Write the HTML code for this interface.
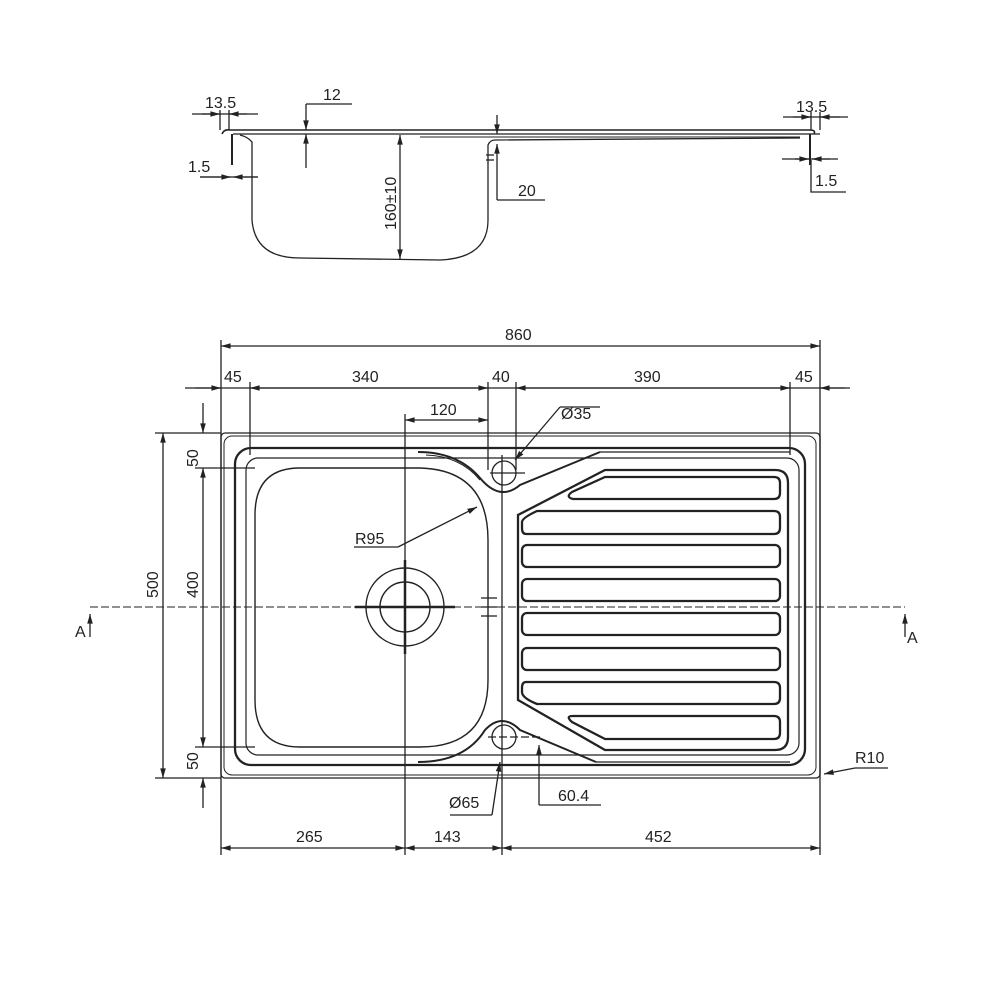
<!DOCTYPE html>
<html><head><meta charset="utf-8"><style>
html,body{margin:0;padding:0;background:#fff}
svg{display:block}
text{font-family:"Liberation Sans",sans-serif;font-size:16px;fill:#222}
</style></head><body>
<svg width="1000" height="1000" viewBox="0 0 1000 1000" xmlns="http://www.w3.org/2000/svg">
<defs>
<marker id="a" viewBox="0 0 12 10" refX="12" refY="5" markerWidth="12" markerHeight="8" orient="auto-start-reverse" markerUnits="userSpaceOnUse"><path d="M0,1.5 L12,5 L0,8.5 z" fill="#222"/></marker>
</defs>
<g fill="none" stroke="#222" stroke-width="1.3">
<!-- SECTION VIEW -->
<path d="M222,134 Q224,129 230,130 L810,130 Q816,130 814,134" stroke-width="1.6"/>
<path d="M233,134 L495,134 L820,134"/>
<path d="M240,135 Q248,137 252,142 L252,220 Q255,258 300,258 L440,260 Q488,258 488,220 L488,145 Q490,140 495,140 L800,138"/>
<path d="M420,137 L800,137" stroke-width="1"/>
<line x1="232" y1="134" x2="232" y2="165" stroke-width="2"/>
<line x1="810" y1="134" x2="810" y2="165" stroke-width="2"/>
<line x1="192" y1="114" x2="258" y2="114"/>
<line x1="220" y1="110" x2="220" y2="130"/><line x1="229" y1="110" x2="229" y2="130"/>
<line x1="202" y1="114" x2="220" y2="114" marker-end="url(#a)"/>
<line x1="247" y1="114" x2="229" y2="114" marker-end="url(#a)"/>
<line x1="200" y1="177" x2="258" y2="177"/>
<line x1="200" y1="177" x2="231" y2="177" marker-end="url(#a)"/>
<line x1="258" y1="177" x2="233" y2="177" marker-end="url(#a)"/>
<line x1="306" y1="104" x2="352" y2="104"/>
<line x1="306" y1="104" x2="306" y2="130" marker-end="url(#a)"/>
<line x1="306" y1="168" x2="306" y2="134" marker-end="url(#a)"/>
<line x1="400" y1="135" x2="400" y2="259" marker-start="url(#a)" marker-end="url(#a)"/>
<line x1="497" y1="115" x2="497" y2="134" marker-end="url(#a)"/>
<line x1="497" y1="200" x2="497" y2="144" marker-end="url(#a)"/>
<line x1="497" y1="200" x2="545" y2="200"/>
<line x1="486" y1="155" x2="494" y2="155"/><line x1="486" y1="160" x2="494" y2="160"/>
<line x1="783" y1="117" x2="848" y2="117"/>
<line x1="811" y1="112" x2="811" y2="130"/><line x1="820" y1="112" x2="820" y2="130"/>
<line x1="793" y1="117" x2="811" y2="117" marker-end="url(#a)"/>
<line x1="840" y1="117" x2="820" y2="117" marker-end="url(#a)"/>
<line x1="782" y1="159" x2="838" y2="159"/>
<line x1="795" y1="159" x2="809" y2="159" marker-end="url(#a)"/>
<line x1="830" y1="159" x2="812" y2="159" marker-end="url(#a)"/>
<polyline points="811,160 811,192 846,192"/>

<!-- PLAN VIEW -->
<rect x="221" y="433" width="599" height="345" rx="4"/>
<rect x="224" y="436" width="592" height="339" rx="8" stroke-width="1"/>
<rect x="235" y="448" width="570" height="317" rx="16" stroke-width="2.3"/>
<rect x="246" y="458" width="553" height="297" rx="12" stroke-width="1.2"/>
<path d="M300,468 L420,468 Q488,470 488,540 L488,680 Q488,747 420,747 L300,747 Q255,747 255,700 L255,515 Q255,468 300,468 Z" stroke-width="1.4"/>
<path d="M418,452 Q458,452 480,478 Q500,502 520,485 L600,452" stroke-width="2"/>
<path d="M426,455 Q460,456 480,480" stroke-width="1"/>
<path d="M600,452 L790,452" stroke-width="1.2"/>
<path d="M418,762 Q465,762 485,730 Q502,712 520,730 L596,762" stroke-width="2"/>
<path d="M596,762 L790,762" stroke-width="1.2"/>
<path d="M605,470 L775,470 Q788,470 788,483 L788,737 Q788,750 775,750 L605,750 L518,700 L518,515 Z" stroke-width="2.3"/>
<g stroke-width="2.3">
<path d="M605,477 L774,477 Q780,477 780,483 L780,493 Q780,499 774,499 L573,499 Q565,497 572,492 Z"/>
<path d="M537,511 L774,511 Q780,511 780,517 L780,528 Q780,534 774,534 L526,534 Q522,534 522,528 L522,522 Q522,518 537,511 Z"/>
<rect x="522" y="545" width="258" height="22" rx="5"/>
<rect x="522" y="579" width="258" height="22" rx="5"/>
<rect x="522" y="613" width="258" height="22" rx="5"/>
<rect x="522" y="648" width="258" height="22" rx="5"/>
<path d="M526,682 L774,682 Q780,682 780,688 L780,698 Q780,704 774,704 L537,704 Q522,698 522,692 L522,688 Q522,682 526,682 Z"/>
<path d="M573,716 L774,716 Q780,716 780,722 L780,733 Q780,739 774,739 L605,739 L572,722 Q565,716 573,716 Z"/>
</g>
<circle cx="405" cy="607" r="39" stroke-width="1.4"/>
<circle cx="405" cy="607" r="25" stroke-width="1.4"/>
<line x1="355" y1="607" x2="455" y2="607" stroke-width="2.5"/>
<line x1="405" y1="560" x2="405" y2="654" stroke-width="2.5"/>
<circle cx="504" cy="473" r="12"/>
<line x1="490" y1="473" x2="525" y2="473"/>
<circle cx="504" cy="737" r="12"/>
<line x1="488" y1="737" x2="540" y2="737" stroke-dasharray="8 3"/>
<line x1="90" y1="607" x2="905" y2="607" stroke-dasharray="8 3" stroke-width="1"/>
<line x1="481" y1="598" x2="497" y2="598"/><line x1="481" y1="607" x2="497" y2="607"/><line x1="481" y1="616" x2="497" y2="616"/>
<line x1="90" y1="637" x2="90" y2="614" marker-end="url(#a)"/>
<line x1="905" y1="637" x2="905" y2="614" marker-end="url(#a)"/>
<line x1="221" y1="340" x2="221" y2="855"/>
<line x1="820" y1="340" x2="820" y2="855"/>
<line x1="250" y1="382" x2="250" y2="455"/>
<line x1="488" y1="382" x2="488" y2="470"/>
<line x1="516" y1="382" x2="516" y2="470"/>
<line x1="790" y1="382" x2="790" y2="455"/>
<line x1="405" y1="414" x2="405" y2="855"/>
<line x1="502" y1="455" x2="502" y2="855"/>
<line x1="221" y1="346" x2="820" y2="346" marker-start="url(#a)" marker-end="url(#a)"/>
<line x1="185" y1="388" x2="850" y2="388"/>
<line x1="195" y1="388" x2="221" y2="388" marker-end="url(#a)"/>
<line x1="250" y1="388" x2="488" y2="388" marker-start="url(#a)" marker-end="url(#a)"/>
<line x1="516" y1="388" x2="790" y2="388" marker-start="url(#a)" marker-end="url(#a)"/>
<line x1="845" y1="388" x2="820" y2="388" marker-end="url(#a)"/>
<line x1="405" y1="420" x2="488" y2="420" marker-start="url(#a)" marker-end="url(#a)"/>
<line x1="155" y1="433" x2="221" y2="433"/>
<line x1="155" y1="778" x2="221" y2="778"/>
<line x1="195" y1="468" x2="255" y2="468"/>
<line x1="195" y1="747" x2="255" y2="747"/>
<line x1="163" y1="433" x2="163" y2="778" marker-start="url(#a)" marker-end="url(#a)"/>
<line x1="203" y1="403" x2="203" y2="433" marker-end="url(#a)"/>
<line x1="203" y1="468" x2="203" y2="747" marker-start="url(#a)" marker-end="url(#a)"/>
<line x1="203" y1="808" x2="203" y2="778" marker-end="url(#a)"/>
<line x1="221" y1="848" x2="405" y2="848" marker-start="url(#a)" marker-end="url(#a)"/>
<line x1="405" y1="848" x2="502" y2="848" marker-start="url(#a)" marker-end="url(#a)"/>
<line x1="502" y1="848" x2="820" y2="848" marker-start="url(#a)" marker-end="url(#a)"/>
<line x1="560" y1="407" x2="515" y2="460" marker-end="url(#a)"/>
<line x1="560" y1="407" x2="600" y2="407"/>
<line x1="354" y1="547" x2="398" y2="547"/>
<line x1="398" y1="547" x2="477" y2="507" marker-end="url(#a)"/>
<polyline points="450,815 492,815"/><line x1="492" y1="815" x2="500" y2="762" marker-end="url(#a)"/>
<polyline points="539,805 539,745" marker-end="url(#a)"/>
<polyline points="539,805 601,805"/>
<line x1="855" y1="768" x2="824" y2="774" marker-end="url(#a)"/>
<line x1="855" y1="768" x2="888" y2="768"/>
</g>
<text x="205" y="108">13.5</text>
<text x="323" y="100">12</text>
<text x="188" y="172">1.5</text>
<text x="518" y="196">20</text>
<text x="796" y="112">13.5</text>
<text x="815" y="186">1.5</text>
<text transform="translate(396,230) rotate(-90)" font-size="15">160±10</text>
<text x="505" y="340">860</text>
<text x="224" y="382">45</text>
<text x="352" y="382">340</text>
<text x="492" y="382">40</text>
<text x="634" y="382">390</text>
<text x="795" y="382">45</text>
<text x="430" y="415">120</text>
<text x="561" y="419">Ø35</text>
<text x="355" y="544">R95</text>
<text transform="translate(158,598) rotate(-90)">500</text>
<text transform="translate(198,598) rotate(-90)">400</text>
<text transform="translate(198,467) rotate(-90)">50</text>
<text transform="translate(198,770) rotate(-90)">50</text>
<text x="75" y="637">A</text>
<text x="907" y="643">A</text>
<text x="855" y="763">R10</text>
<text x="449" y="808">Ø65</text>
<text x="558" y="801">60.4</text>
<text x="296" y="842">265</text>
<text x="434" y="842">143</text>
<text x="645" y="842">452</text>
</svg>
</body></html>
